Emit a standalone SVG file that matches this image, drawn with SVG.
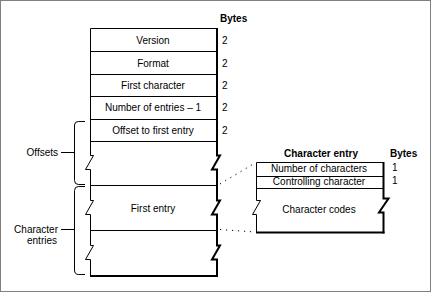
<svg xmlns="http://www.w3.org/2000/svg" width="432" height="293" viewBox="0 0 432 293">
<style>
  .t { font-family: "Liberation Sans", Arial, sans-serif; font-size: 10px; fill: #000; }
  .c { text-anchor: middle; }
  .e { text-anchor: end; }
  .b { font-weight: bold; }
  .ln { fill: none; stroke: #000; stroke-width: 1; }
  .thick { fill: none; stroke: #000; stroke-width: 2; }
  .dot { fill: none; stroke: #000; stroke-width: 1; stroke-dasharray: 1.2 4.8; }
</style>
<rect x="0.5" y="0.5" width="430" height="291" fill="#fff" stroke="#808080" stroke-width="1"/>

<g id="main-table">
  <path class="ln" d="M90.5,28.5 H216"/>
  <path class="ln" d="M90.5,28.5 V155.5 H93.5 L85.5,169.5 H90.5 V200.5 H93.5 L85.5,214.5 H90.5 V245.5 H93.5 L85.5,259.5 H90.5 V276"/>
  <path class="thick" d="M217,28 V155.5 H220 L212,169.5 H217 V200.5 H220 L212,214.5 H217 V245.5 H220 L212,259.5 H217 V277"/>
  <path class="thick" d="M90,276 H218"/>
  <path class="ln" d="M90.5,51.5 H216 M90.5,74.5 H216 M90.5,96.5 H216 M90.5,119.5 H216 M90.5,141.5 H216 M90.5,185.5 H216 M90.5,230.5 H216"/>
  <text class="t c" x="153" y="44">Version</text>
  <text class="t c" x="153" y="66.5">Format</text>
  <text class="t c" x="153" y="89">First character</text>
  <text class="t c" x="153" y="111">Number of entries – 1</text>
  <text class="t c" x="153" y="134">Offset to first entry</text>
  <text class="t c" x="153" y="212">First entry</text>
</g>

<g id="bytes-column">
  <text class="t b" x="220" y="22">Bytes</text>
  <text class="t" x="222" y="44">2</text>
  <text class="t" x="222" y="66.5">2</text>
  <text class="t" x="222" y="89">2</text>
  <text class="t" x="222" y="111">2</text>
  <text class="t" x="222" y="134">2</text>
</g>

<g id="offsets-brace">
  <path class="ln" d="M85,121.5 H78.5 Q74.5,121.5 74.5,125 V180.5 Q74.5,184.5 78.5,184.5 H85"/>
  <path class="ln" d="M61,152.5 H74.5"/>
  <text class="t e" x="58" y="156">Offsets</text>
</g>

<g id="entries-brace">
  <path class="ln" d="M85,186.5 H78.5 Q74.5,186.5 74.5,190.5 V270 Q74.5,274.5 78.5,274.5 H85"/>
  <path class="ln" d="M61,229.5 H74.5"/>
  <text class="t e" x="58" y="233">Character</text>
  <text class="t e" x="57" y="244">entries</text>
</g>

<g id="character-entry">
  <text class="t b c" x="321" y="157">Character entry</text>
  <text class="t b" x="390" y="157">Bytes</text>
  <path class="ln" d="M256.5,162.5 H383"/>
  <path class="ln" d="M256.5,162.5 V200.5 H260.5 L252.5,214.5 H256.5 V233"/>
  <path class="thick" d="M383.5,162 V198.5 H388.5 L379,212.5 H383.5 V233.5"/>
  <path class="thick" d="M256,232.5 H384.5"/>
  <path class="ln" d="M256.5,176.5 H383 M256.5,188.5 H383"/>
  <text class="t c" x="319" y="172">Number of characters</text>
  <text class="t c" x="319" y="185">Controlling character</text>
  <text class="t c" x="319" y="213">Character codes</text>
  <text class="t" x="392" y="171">1</text>
  <text class="t" x="392" y="184">1</text>
</g>

<g id="connectors">
  <path class="dot" d="M220,184 L255,163"/>
  <path class="dot" d="M220,229.5 L255,232"/>
</g>
</svg>
